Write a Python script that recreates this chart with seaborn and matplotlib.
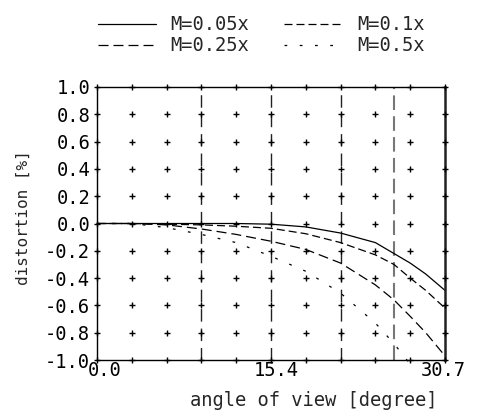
import numpy as np
import pandas as pd
import matplotlib
matplotlib.use("Agg")
import matplotlib.pyplot as plt
import matplotlib.transforms as mtransforms
import seaborn as sns

# ---- data ----
angle = [0, 3.07, 6.14, 9.21, 12.28, 15.35, 18.42, 21.49, 24.56, 26.2, 27.63, 29.0, 30.7]
m005 = [0, 0, 0, 0, 0, -0.005, -0.025, -0.07, -0.14, -0.22, -0.29, -0.37, -0.49]
m01 = [0, 0, -0.005, -0.01, -0.02, -0.035, -0.075, -0.14, -0.23, -0.30, -0.40, -0.49, -0.62]
m025 = [0, 0, -0.01, -0.04, -0.08, -0.13, -0.19, -0.29, -0.45, -0.56, -0.68, -0.80, -0.97]
angle_05 = [0, 3.07, 6.14, 9.21, 12.28, 15.35, 18.42, 21.49, 24.56, 26.2, 27.63]
m05 = [0, 0, -0.03, -0.08, -0.14, -0.24, -0.35, -0.51, -0.73, -0.88, -1.03]

labels = ["M=0.05x", "M=0.1x", "M=0.25x", "M=0.5x"]
xtick_vals = [0.0, 15.35, 30.7]
xtick_labels = ["0.0", "15.4", "30.7"]
ytick_vals = [1.0, 0.8, 0.6, 0.4, 0.2, 0.0, -0.2, -0.4, -0.6, -0.8, -1.0]
dashed_x = [9.21, 15.35, 21.49]
gray_x = 26.2

sns.set_style("white")
plt.rcParams["font.family"] = ["DejaVu Sans Mono", "DejaVu Sans"]

fig = plt.figure(figsize=(4.79, 4.16), dpi=100)
ax = fig.add_axes([97 / 479, 1 - 360 / 416, 348 / 479, 273 / 416])

styles = [
    dict(linestyle="-"),
    dict(linestyle=(0, (6.4, 3.2))),
    dict(linestyle=(0, (8, 4))),
    dict(linestyle=(0, (2.2, 10))),
]
series = [(angle, m005), (angle, m01), (angle, m025), (angle_05, m05)]
for (xs, ys), lab, st in zip(series, labels, styles):
    df = pd.DataFrame({"angle": xs, "d": ys})
    sns.lineplot(data=df, x="angle", y="d", ax=ax, color="black", lw=0.9,
                 label=lab, legend=False, clip_on=False, **st)

# reference verticals
for xv in dashed_x:
    ax.axvline(xv, color="#222222", lw=1.0, linestyle=(0, (9, 5)), zorder=1)
ax.axvline(gray_x, color="#777777", lw=1.5, linestyle=(0, (7, 3)), zorder=1)

# plus-sign grid
gx = np.linspace(0, 30.7, 11)
gy = np.array(ytick_vals)
GX, GY = np.meshgrid(gx, gy)
ax.plot(GX.ravel(), GY.ravel(), linestyle="none", marker="+", color="black",
        markersize=5, mew=1.0, clip_on=False, zorder=3)

ax.set_xlim(0, 30.7)
ax.set_ylim(-1.0, 1.0)
ax.set_xticks(xtick_vals)
ax.set_xticklabels(xtick_labels)
ax.set_yticks(ytick_vals)
ax.set_yticklabels([f"{v:.1f}" for v in ytick_vals])
ax.tick_params(axis="both", length=0, labelsize=13.5, colors="black")
ax.tick_params(axis="x", pad=1)
ax.tick_params(axis="y", pad=5)

# small horizontal offsets of x tick labels, as in the reference
for lab, dx in zip(ax.get_xticklabels(), [8, 5, -2]):
    lab.set_transform(lab.get_transform() +
                      mtransforms.ScaledTranslation(dx / 100, 0, fig.dpi_scale_trans))

ax.set_xlabel("angle of view [degree]", fontsize=13.5)
ax.set_ylabel("distortion [%]", fontsize=11.5)
ax.xaxis.set_label_coords(0.622, -0.115)
ax.yaxis.set_label_coords(-0.19, 0.52)

for s in ["left", "top", "bottom"]:
    ax.spines[s].set_color("black")
    ax.spines[s].set_linewidth(1.0)
ax.spines["right"].set_color("#222222")
ax.spines["right"].set_linewidth(1.8)

lines = ax.get_lines()[:4]
order = [0, 2, 1, 3]
fig.legend([lines[i] for i in order], [labels[i] for i in order],
           loc="upper left", bbox_to_anchor=(90 / 479, 1 - 8 / 416), ncol=2,
           frameon=False, fontsize=13.5, handlelength=3.1, handletextpad=0.8,
           columnspacing=1.85, labelspacing=0.1, borderaxespad=0)

fig.savefig("out.png", dpi=100)
